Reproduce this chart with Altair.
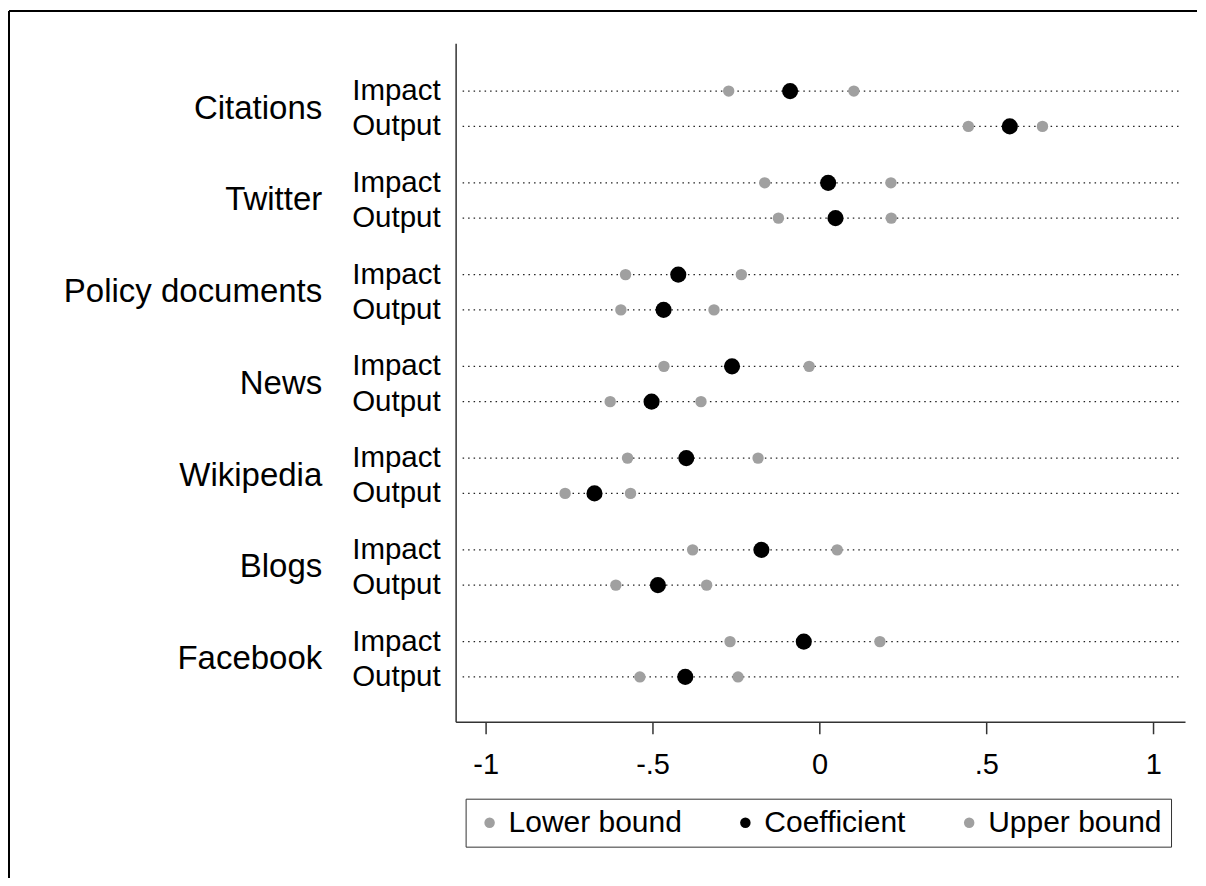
import altair as alt
import pandas as pd

sources = ["Citations", "Twitter", "Policy documents", "News", "Wikipedia", "Blogs", "Facebook"]
measures = ["Impact", "Output"]

# per source: [Impact, Output]
lower = {
    "Citations": [-0.272, 0.446],
    "Twitter": [-0.164, -0.123],
    "Policy documents": [-0.581, -0.595],
    "News": [-0.466, -0.627],
    "Wikipedia": [-0.575, -0.762],
    "Blogs": [-0.380, -0.610],
    "Facebook": [-0.268, -0.538],
}
coef = {
    "Citations": [-0.088, 0.570],
    "Twitter": [0.026, 0.048],
    "Policy documents": [-0.423, -0.467],
    "News": [-0.262, -0.503],
    "Wikipedia": [-0.399, -0.674],
    "Blogs": [-0.174, -0.484],
    "Facebook": [-0.047, -0.402],
}
upper = {
    "Citations": [0.103, 0.668],
    "Twitter": [0.214, 0.215],
    "Policy documents": [-0.234, -0.316],
    "News": [-0.031, -0.355],
    "Wikipedia": [-0.184, -0.566],
    "Blogs": [0.053, -0.338],
    "Facebook": [0.181, -0.244],
}

series_names = ["Lower bound", "Coefficient", "Upper bound"]
tick_values = [-1, -0.5, 0, 0.5, 1]
tick_labels = ["-1", "-.5", "0", ".5", "1"]

rows = []
for s in sources:
    for i, m in enumerate(measures):
        for name, d in zip(series_names, [lower, coef, upper]):
            rows.append({"source": s, "measure": m, "series": name, "value": d[s][i]})
df = pd.DataFrame(rows)

rows_df = pd.DataFrame([{"source": s, "measure": m} for s in sources for m in measures])

FONT = "Liberation Sans"
W, H = 730, 679
GRAY = "#a0a0a0"

label_expr = " : ".join(
    [f"datum.value == {v} ? '{l}'" for v, l in zip(tick_values, tick_labels)]
) + " : datum.label"

y_enc = alt.Y(
    "source:N",
    sort=sources,
    scale=alt.Scale(paddingInner=0, paddingOuter=0.197, align=0.54),
    axis=alt.Axis(
        title=None,
        ticks=False,
        labelFontSize=33,
        labelFont=FONT,
        labelColor="black",
        labelPadding=134,
        domainColor="#333333",
        domainWidth=1.5,
        labelLimit=400,
    ),
)
yoff_enc = alt.YOffset(
    "measure:N",
    sort=measures,
    scale=alt.Scale(paddingInner=0, paddingOuter=0.3),
)

x_scale = alt.Scale(domain=[-1.09, 1.095], nice=False, zero=False)

base_rows = alt.Chart(rows_df)

rules = base_rows.mark_rule(
    color="#222222", strokeWidth=1.2, strokeDash=[1.5, 4]
).encode(
    y=y_enc,
    yOffset=yoff_enc,
    x=alt.value(7),
    x2=alt.value(726),
)

sub_labels = base_rows.mark_text(
    align="right", baseline="middle", fontSize=29.5, font=FONT, color="black"
).encode(
    y=y_enc,
    yOffset=yoff_enc,
    x=alt.value(-15),
    text="measure:N",
)

points = alt.Chart(df).mark_circle(opacity=1).encode(
    y=y_enc,
    yOffset=yoff_enc,
    x=alt.X(
        "value:Q",
        scale=x_scale,
        axis=alt.Axis(
            title=None,
            values=tick_values,
            labelExpr=label_expr,
            grid=False,
            tickSize=12,
            tickWidth=1.5,
            tickColor="#333333",
            domainColor="#333333",
            domainWidth=1.5,
            labelFontSize=29,
            labelFont=FONT,
            labelColor="black",
            labelPadding=17,
        ),
    ),
    color=alt.Color(
        "series:N",
        scale=alt.Scale(domain=series_names, range=[GRAY, "black", GRAY]),
        legend=alt.Legend(
            title=None,
            orient="none",
            legendX=10,
            legendY=756,
            direction="horizontal",
            columns=3,
            columnPadding=48,
            labelFontSize=30,
            labelFont=FONT,
            labelColor="black",
            labelOffset=4,
            labelLimit=400,
            symbolType="circle",
            symbolSize=110,
            symbolOffset=0,
            symbolStrokeWidth=0,
            strokeColor="#333333",
            padding=9,
            offset=0,
        ),
    ),
    size=alt.condition(alt.datum.series == "Coefficient", alt.value(260), alt.value(130)),
)

frame_top = alt.Chart(rows_df).mark_rule(color="black", strokeWidth=1.5).encode(
    x=alt.value(-447), x2=alt.value(742), y=alt.value(-32)
)
frame_left = alt.Chart(rows_df).mark_rule(color="black", strokeWidth=1.5).encode(
    x=alt.value(-447), y=alt.value(-32), y2=alt.value(835)
)

chart = (
    alt.layer(frame_top, frame_left, rules, sub_labels, points)
    .properties(width=W, height=H, padding={"left": 0, "top": 2, "right": 0, "bottom": 0})
    .configure(background="white")
    .configure_view(strokeWidth=0, stroke="transparent")
)

chart.save("out.html", embed_options={"renderer": "svg", "actions": False})
